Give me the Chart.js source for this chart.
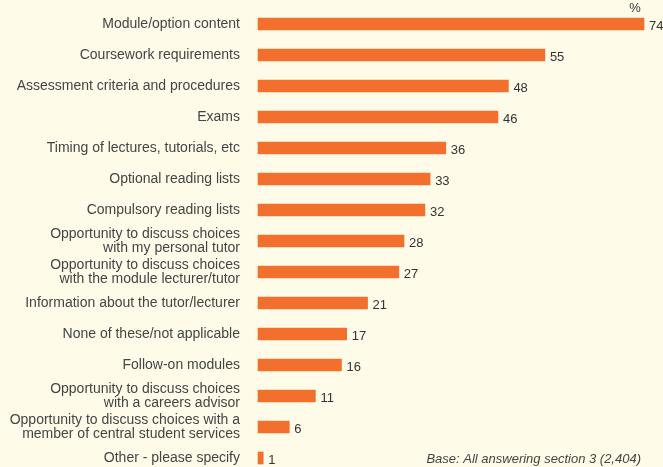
<!DOCTYPE html>
<html>
<head>
<meta charset="utf-8">
<script src="https://cdn.jsdelivr.net/npm/chart.js@4.4.0/dist/chart.umd.min.js"></script>
<style>
  html, body { margin: 0; padding: 0; background: #fefce9; }
  #wrap { position: relative; width: 663px; height: 467px; }
</style>
</head>
<body>
<div id="wrap"><canvas id="bar-chart"></canvas></div>
<script>
// reasons / aspects of module choice, in the order shown
var categories = [
  "Module/option content",
  "Coursework requirements",
  "Assessment criteria and procedures",
  "Exams",
  "Timing of lectures, tutorials, etc",
  "Optional reading lists",
  "Compulsory reading lists",
  ["Opportunity to discuss choices", "with my personal tutor"],
  ["Opportunity to discuss choices", "with the module lecturer/tutor"],
  "Information about the tutor/lecturer",
  "None of these/not applicable",
  "Follow-on modules",
  ["Opportunity to discuss choices", "with a careers advisor"],
  ["Opportunity to discuss choices with a", "member of central student services"],
  "Other - please specify"
];
var percentages = [74, 55, 48, 46, 36, 33, 32, 28, 27, 21, 17, 16, 11, 6, 1];
var baseNote = "Base: All answering section 3 (2,404)";

var FONT = "'Liberation Sans', Arial, Helvetica, sans-serif";

// numbers at the end of each bar, plus the % header and base note
var valueLabels = {
  id: "valueLabels",
  afterDatasetsDraw: function(chart) {
    var ctx = chart.ctx;
    var meta = chart.getDatasetMeta(0);
    ctx.save();
    ctx.fillStyle = "#333333";
    ctx.font = "13px " + FONT;
    ctx.textAlign = "left";
    ctx.textBaseline = "middle";
    meta.data.forEach(function(bar, i) {
      ctx.fillText(percentages[i], bar.x + 5, bar.y + 2);
    });
    var first = meta.data[0];
    ctx.textAlign = "center";
    ctx.fillText("%", first.x - 9, 8);
    ctx.font = "italic 13px " + FONT;
    ctx.fillStyle = "#444444";
    ctx.textAlign = "right";
    ctx.fillText(baseNote, 641, 459);
    ctx.restore();
  }
};

var chart = new Chart(document.getElementById("bar-chart"), {
  type: "bar",
  data: {
    labels: categories,
    datasets: [{
      data: percentages,
      backgroundColor: "#f26f2e",
      borderWidth: 0,
      barThickness: 12,
      clip: false
    }]
  },
  options: {
    indexAxis: "y",
    responsive: true,
    maintainAspectRatio: false,
    animation: false,
    layout: { padding: { top: 24, bottom: 9, right: 19, left: 0 } },
    plugins: {
      legend: { display: false },
      tooltip: { enabled: false }
    },
    scales: {
      x: {
        display: false,
        min: 0,
        max: 74
      },
      y: {
        offset: false,
        grid: { display: false, drawTicks: false },
        border: { display: false },
        afterFit: function(scale) {
          // fixed label column; first and last rows sit on the area edges
          scale.width = 258;
          scale.paddingTop = 0;
          scale.paddingBottom = 0;
        },
        ticks: {
          padding: 18,
          color: "#444444",
          font: { family: FONT, size: 14, lineHeight: 0.95 }
        }
      }
    }
  },
  plugins: [valueLabels]
});
</script>
</body>
</html>
